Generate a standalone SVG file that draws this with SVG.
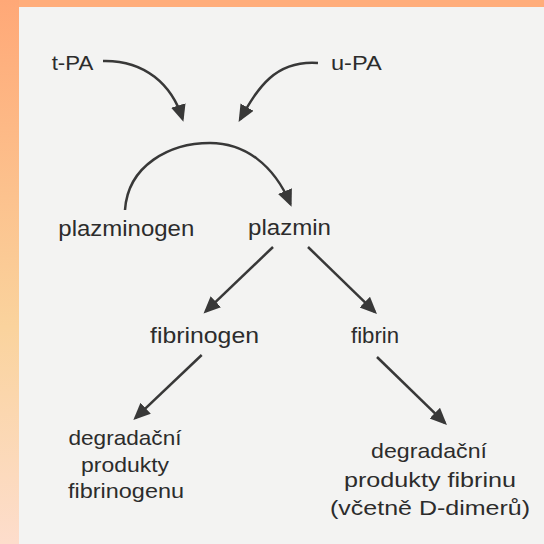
<svg xmlns="http://www.w3.org/2000/svg" width="544" height="544" viewBox="0 0 544 544">
  <defs>
    <linearGradient id="leftBand" x1="0" y1="0" x2="0" y2="1">
      <stop offset="0" stop-color="#FFA877"/>
      <stop offset="0.6" stop-color="#FAD39D"/>
      <stop offset="1" stop-color="#FDDDCC"/>
    </linearGradient>
    <marker id="arrow" markerUnits="userSpaceOnUse" markerWidth="18" markerHeight="16" refX="14" refY="7.5" orient="auto" viewBox="0 0 18 16">
      <path d="M0,0 L17,7.5 L0,15 z" fill="#383838"/>
    </marker>
    <style>
      .lbl { font-family: "Liberation Sans", Arial, Helvetica, sans-serif; fill: #2c2c2c; text-anchor: middle; }
      .top { font-size: 19.5px; }
      .big { font-size: 22px; }
      .sm { font-size: 21px; }
      .conn { fill: none; stroke: #383838; stroke-width: 2.5; marker-end: url(#arrow); }
    </style>
  </defs>

  <rect x="0" y="0" width="544" height="544" fill="#F3F3F2"/>
  <rect x="0" y="0" width="544" height="7" fill="#FFAD7B"/>
  <rect x="0" y="0" width="19" height="544" fill="url(#leftBand)"/>

  <g id="connectors">
    <path class="conn" d="M103,61 C145,60 172,85 182.5,118.8"/>
    <path class="conn" d="M318,63 C275,60 258,88 240.1,119.3"/>
    <path class="conn" d="M125,210 C128,165 170,143 210,143 C245,143 274,165 290.4,204"/>
    <path class="conn" d="M273,247 L205.7,311.4"/>
    <path class="conn" d="M308,247 L374.8,311.9"/>
    <path class="conn" d="M201.7,355 L135.5,417.9"/>
    <path class="conn" d="M377,357 L444.8,422.9"/>
  </g>

  <g id="tPA"><text class="lbl top" x="72.5" y="70" textLength="41.6" lengthAdjust="spacingAndGlyphs">t-PA</text></g>
  <g id="uPA"><text class="lbl top" x="356.3" y="70" textLength="50.7" lengthAdjust="spacingAndGlyphs">u-PA</text></g>
  <g id="plazminogen"><text class="lbl big" x="126.3" y="236" textLength="136" lengthAdjust="spacingAndGlyphs">plazminogen</text></g>
  <g id="plazmin"><text class="lbl big" x="289.5" y="235" textLength="83" lengthAdjust="spacingAndGlyphs">plazmin</text></g>
  <g id="fibrinogen"><text class="lbl big" x="204.5" y="343" textLength="109" lengthAdjust="spacingAndGlyphs">fibrinogen</text></g>
  <g id="fibrin"><text class="lbl big" x="375" y="343" textLength="48" lengthAdjust="spacingAndGlyphs">fibrin</text></g>
  <g id="fdp">
    <text class="lbl sm" x="125" y="445" textLength="113" lengthAdjust="spacingAndGlyphs">degradační</text>
    <text class="lbl sm" x="125" y="472" textLength="88" lengthAdjust="spacingAndGlyphs">produkty</text>
    <text class="lbl sm" x="126" y="498" textLength="116" lengthAdjust="spacingAndGlyphs">fibrinogenu</text>
  </g>
  <g id="fdp-fibrin">
    <text class="lbl sm" x="429" y="458" textLength="116" lengthAdjust="spacingAndGlyphs">degradační</text>
    <text class="lbl sm" x="430" y="487" textLength="172" lengthAdjust="spacingAndGlyphs">produkty fibrinu</text>
    <text class="lbl sm" x="430" y="515" textLength="200" lengthAdjust="spacingAndGlyphs">(včetně D-dimerů)</text>
  </g>
</svg>
